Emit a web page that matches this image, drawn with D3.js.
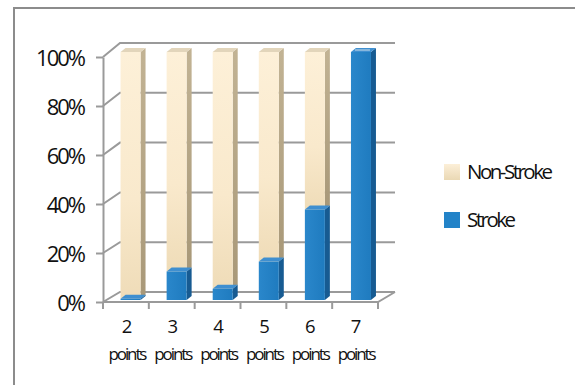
<!DOCTYPE html>
<html>
<head>
<meta charset="utf-8">
<script src="https://cdn.jsdelivr.net/npm/d3@7"></script>
<style>
  html, body { margin: 0; padding: 0; background: #fff; }
  svg { display: block; }
  text { font-family: "Open Sans", sans-serif; fill: #111; }
</style>
</head>
<body>
<svg id="chart" width="575" height="385"></svg>
<script>
// Share of patients by point score, split into stroke / non-stroke
const categories = ["2", "3", "4", "5", "6", "7"];
const strokeShare = [0.005, 0.115, 0.045, 0.155, 0.365, 1.0];
const nonStrokeShare = [0.995, 0.885, 0.955, 0.845, 0.635, 0.0];
const yTicks = [0, 0.2, 0.4, 0.6, 0.8, 1.0];
const seriesNames = ["Non-Stroke", "Stroke"];

const svg = d3.select("#chart");

// gradients for the bar faces
const defs = svg.append("defs");
function hGrad(id, stops) {
  const g = defs.append("linearGradient").attr("id", id)
    .attr("x1", "0").attr("x2", "1").attr("y1", "0").attr("y2", "0");
  stops.forEach(([o, c]) => g.append("stop").attr("offset", o).attr("stop-color", c));
}
function vGrad(id, stops) {
  const g = defs.append("linearGradient").attr("id", id)
    .attr("x1", "0").attr("x2", "0").attr("y1", "0").attr("y2", "1");
  stops.forEach(([o, c]) => g.append("stop").attr("offset", o).attr("stop-color", c));
}
vGrad("creamFront", [[0, "#fdf0d8"], [0.6, "#f9e9cc"], [1, "#efdcb8"]]);
vGrad("creamSide", [[0, "#c2b394"], [1, "#a89878"]]);
hGrad("blueFront", [[0, "#2a87cb"], [1, "#1f7bbf"]]);
vGrad("legendCream", [[0, "#fcefd8"], [1, "#ead8b4"]]);

// outer frame
svg.append("line").attr("x1", 14).attr("x2", 575).attr("y1", 8).attr("y2", 8)
  .attr("stroke", "#8c8c8c").attr("stroke-width", 2);
svg.append("line").attr("x1", 14).attr("x2", 14).attr("y1", 7).attr("y2", 385)
  .attr("stroke", "#8c8c8c").attr("stroke-width", 2);

// scales: front plane of the axes, the back wall, and the bars in between
const yFront = d3.scaleLinear().domain([0, 1]).range([302, 57]);
const yBack = d3.scaleLinear().domain([0, 1]).range([292, 43]);
const yBar = d3.scaleLinear().domain([0, 1]).range([300, 52]);
const xAxisBand = d3.scaleBand().domain(categories).range([103, 378]);
const xBar = d3.scaleBand().domain(categories).range([107.5, 384]);
const depthX = 17;      // front -> back wall offset
const backLeft = 103 + depthX, backRight = 378 + depthX;
const barW = 20, sideDx = 5, sideDy = -4;

const grid = svg.append("g").attr("stroke", "#9a9a9a").attr("stroke-width", 2).attr("fill", "none");
// back-wall gridlines with their diagonals on the side wall
yTicks.forEach(t => {
  grid.append("path").attr("d",
    `M103,${yFront(t)}L${backLeft},${yBack(t)}L${backRight},${yBack(t)}`);
});
// floor
grid.append("path").attr("d",
  `M103,${yFront(0)}L378,${yFront(0)}L${backRight},${yBack(0)}`);

// front y axis
const yAxis = d3.axisLeft(yFront).tickValues(yTicks).tickFormat(d3.format(".0%"))
  .tickSize(7).tickSizeOuter(0).tickPadding(12);
const yg = svg.append("g").attr("transform", "translate(103,0)").call(yAxis);
yg.select(".domain").attr("stroke", "#9a9a9a").attr("stroke-width", 2);
yg.selectAll(".tick line").attr("stroke", "#9a9a9a").attr("stroke-width", 2);
yg.selectAll(".tick text").attr("font-size", 22).attr("letter-spacing", "-2px")
  .attr("font-family", "Open Sans").attr("fill", "#111").attr("dy", "0.38em");

// x tick marks at band boundaries
const bounds = categories.map(c => xAxisBand(c)).concat([xAxisBand.range()[1]]);
svg.append("g").selectAll("line").data(bounds).join("line")
  .attr("x1", d => d).attr("x2", d => d)
  .attr("y1", yFront(0)).attr("y2", yFront(0) + 7)
  .attr("stroke", "#9a9a9a").attr("stroke-width", 2);

// x labels
const xl = svg.append("g").selectAll("g").data(categories).join("g")
  .attr("transform", c => `translate(${xAxisBand(c) + xAxisBand.bandwidth() / 2 + 1},0)`);
xl.append("text").attr("y", 333).attr("text-anchor", "middle")
  .attr("font-size", 18.5).text(d => d);
xl.append("text").attr("y", 360).attr("text-anchor", "middle")
  .attr("font-size", 17).attr("letter-spacing", "-2.1px").text("points");

// one 3D box segment: front, side, top
function box(g, x, v0, v1, fills, showTop) {
  const yt = yBar(v1), yb = yBar(v0);
  if (yb - yt <= 0) return;
  g.append("path").attr("fill", fills.side).attr("d",
    `M${x + barW},${yb}L${x + barW + sideDx},${yb + sideDy}L${x + barW + sideDx},${yt + sideDy}L${x + barW},${yt}Z`);
  g.append("rect").attr("x", x).attr("y", yt).attr("width", barW).attr("height", yb - yt)
    .attr("fill", fills.front);
  if (showTop) {
    g.append("path").attr("fill", fills.top).attr("d",
      `M${x},${yt}L${x + sideDx},${yt + sideDy}L${x + barW + sideDx},${yt + sideDy}L${x + barW},${yt}Z`);
  }
}

const bars = svg.append("g");
categories.forEach((c, i) => {
  const x = xBar(c) + (xBar.bandwidth() - barW) / 2;
  const s = strokeShare[i], n = nonStrokeShare[i];
  const g = bars.append("g");
  box(g, x, s, s + n, { front: "url(#creamFront)", side: "url(#creamSide)", top: "#e2d5bb" }, n > 0);
  box(g, x, 0, s, { front: "url(#blueFront)", side: "#175b92", top: "#3f8fd0" }, true);
  if (s >= 0.999) {
    // highlight on the top of a full-height bar
    g.append("line").attr("x1", x + 4).attr("x2", x + barW - 1)
      .attr("y1", yBar(s) - 2).attr("y2", yBar(s) - 2)
      .attr("stroke", "#9fc3e0").attr("stroke-width", 1.5);
  }
});

// legend
const legend = svg.append("g");
const legendFills = ["url(#legendCream)", "#2383c8"];
seriesNames.forEach((name, i) => {
  const y = 172 + i * 48;
  legend.append("rect").attr("x", 444).attr("y", y - 8).attr("width", 16).attr("height", 16)
    .attr("fill", legendFills[i]);
  legend.append("text").attr("x", 467).attr("y", y).attr("dy", "0.36em")
    .attr("font-size", 20.5).attr("letter-spacing", "-2.5px").text(name);
});
</script>
</body>
</html>
